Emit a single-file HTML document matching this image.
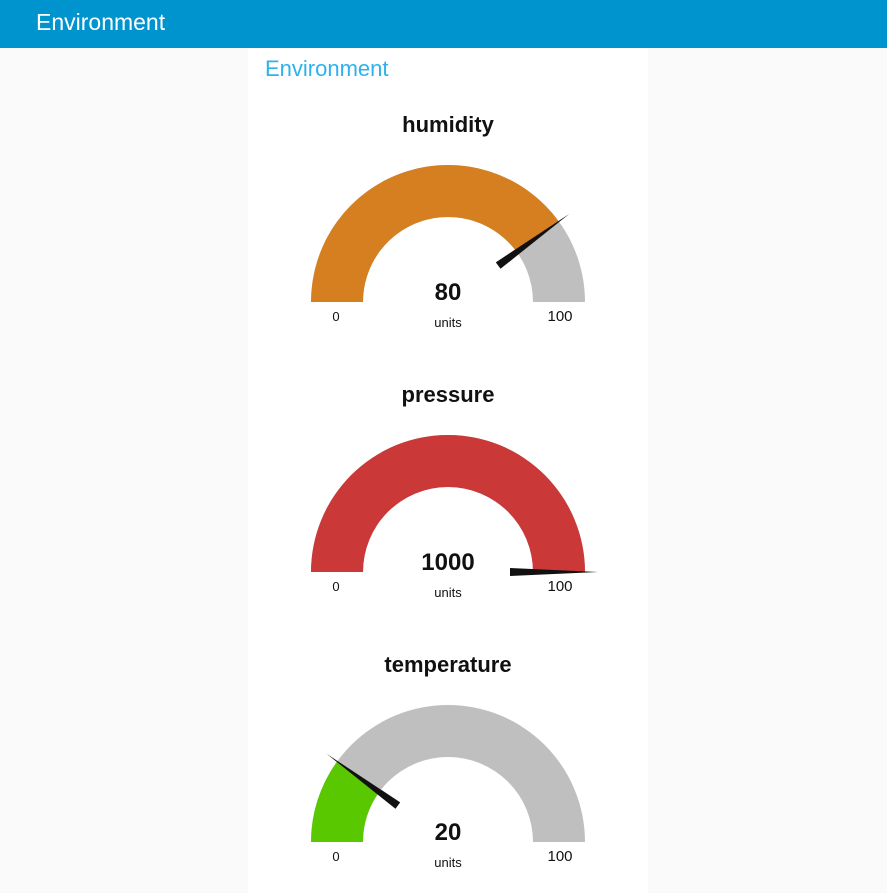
<!DOCTYPE html>
<html><head><meta charset="utf-8">
<style>
body{margin:0;width:887px;height:893px;background:#fafafa;font-family:"Liberation Sans",sans-serif;overflow:hidden;position:relative}
#hdr{position:absolute;left:0;top:0;width:887px;height:48px;background:#0094ce;color:#fff;font-size:23px;line-height:44px}
#hdr span{position:absolute;left:36px;top:0}
#card{position:absolute;left:248px;top:48px;width:400px;height:845px;background:#fff}
#gt{position:absolute;left:17px;top:8px;color:#2eb2ef;font-size:22px}
svg{position:absolute;left:0;top:0}
</style></head><body>
<div id="hdr"><span>Environment</span></div>
<div id="card"><div id="gt">Environment</div></div>
<svg id="s" width="887" height="893"></svg>
<script>
const gaugeNames=["humidity","pressure","temperature"];
const gaugeValues=[80,1000,20];
const gaugeMin=[0,0,0];
const gaugeMax=[100,100,100];
const gaugeColors=["#d57f21","#ca3838","#5ac800"];
const NS="http://www.w3.org/2000/svg";
const s=document.getElementById('s');
const cx=448,R=137,r=85;
function mk(t,a){const e=document.createElementNS(NS,t);for(const k in a)e.setAttribute(k,a[k]);s.appendChild(e);return e;}
function pt(rad,f,cy){const a=Math.PI*(1-f);return [cx+rad*Math.cos(a),cy-rad*Math.sin(a)];}
function arc(f0,f1,cy){const p0=pt(R,f0,cy),p1=pt(R,f1,cy),q1=pt(r,f1,cy),q0=pt(r,f0,cy);
return `M${p0}A${R},${R} 0 0 1 ${p1}L${q1}A${r},${r} 0 0 0 ${q0}Z`;}
function txt(x,y,str,size,w,name){const t=mk('text',{x:x,y:y,'text-anchor':'middle','font-size':size,'font-weight':w,fill:'#111','font-family':'Liberation Sans, sans-serif'});t.textContent=str;

return t;}
gaugeNames.forEach((n,i)=>{
 const cy=302+270*i;
 let f=(gaugeValues[i]-gaugeMin[i])/(gaugeMax[i]-gaugeMin[i]);f=Math.max(0,Math.min(1,f));
 txt(cx,cy-170,n,22,'bold',n+'-title');
 const bg=mk('path',{d:arc(0,1,cy),fill:'#bfbfbf'});
 
 
 if(f>0){const fg=mk('path',{d:arc(0,f,cy),fill:gaugeColors[i]});
 
 }
 const a=Math.PI*(1-f),ux=Math.cos(a),uy=-Math.sin(a),px=-uy,py=ux;
 const b=[cx+62*ux,cy+62*uy],tp=[cx+150*ux,cy+150*uy];
 const nd=mk('polygon',{points:`${b[0]+4*px},${b[1]+4*py} ${b[0]-4*px},${b[1]-4*py} ${tp}`,fill:'#111'});
 
 
 txt(cx,cy-2,String(gaugeValues[i]),24,'bold',n+'-value');
 txt(cx,cy+25,'units',13,'normal',n+'-units');
 txt(336,cy+19,String(gaugeMin[i]),13,'normal',n+'-min-label');
 txt(560,cy+19,String(gaugeMax[i]),15,'normal',n+'-max-label');
});
</script>
</body></html>
